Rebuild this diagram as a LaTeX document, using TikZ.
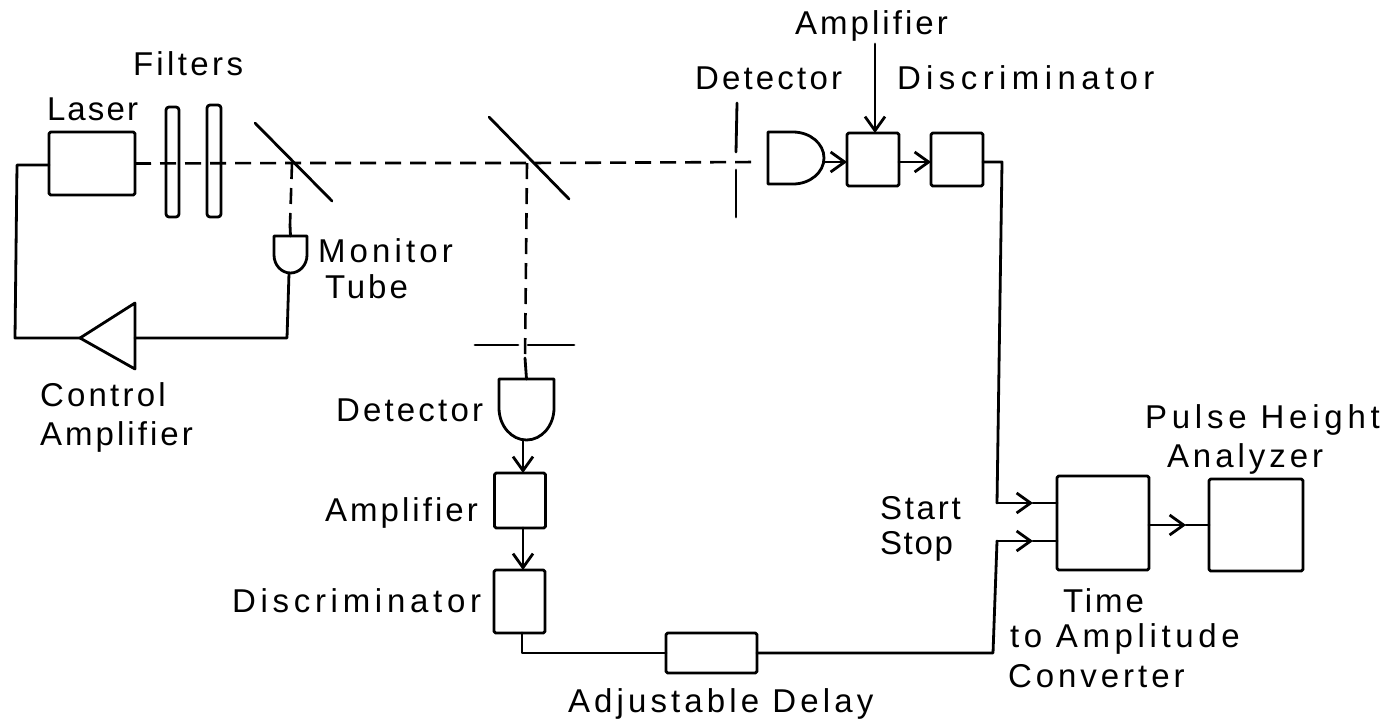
\documentclass[tikz,border=0pt]{standalone}
\usepackage{fontspec}
\setmainfont{Liberation Sans}
\usetikzlibrary{arrows.meta}
\tikzset{
  wire/.style={line width=1.4pt,line join=round,line cap=round},
  beam/.style={line width=1.3pt,dash pattern=on 8pt off 4.5pt},
  sized/.style 2 args={minimum width=#1*0.5pt,minimum height=#2*0.5pt,inner sep=0pt,outer sep=0pt},
  unit/.style 2 args={sized={#1}{#2},draw,wire,rounded corners=0.8pt},
  ghost/.style 2 args={sized={#1}{#2}},
  lab/.style={anchor=base west,inner sep=0pt,outer sep=0pt,font=\fontsize{16.5}{20}\selectfont\addfontfeature{LetterSpace=#1}},
  barb/.style={-{Straight Barb[length=7pt,width=10pt,line width=1.4pt]}}
}
\begin{document}
\begin{tikzpicture}[x=0.5pt,y=-0.5pt]
\useasboundingbox[fill=white] (0,0) rectangle (1384,725);
% boxes
\node[unit={86}{63}] (laser) at (92,163.5) {};
\node[unit={13}{110},rounded corners=1.5pt] (f1) at (172.5,162) {};
\node[unit={14}{112},rounded corners=1.5pt] (f2) at (214,161) {};
\node[unit={52}{53}] (amp1) at (873,159.5) {};
\node[unit={52}{53}] (disc1) at (957,159.5) {};
\node[unit={51}{55}] (amp2) at (520,500.5) {};
\node[unit={51}{63}] (disc2) at (519.5,601.5) {};
\node[unit={91}{40}] (delay) at (711.5,653) {};
\node[unit={92}{94}] (tac) at (1103,523) {};
\node[unit={94}{92}] (pha) at (1256,525) {};
% tubes (outlines drawn on invisible anchor nodes)
\node[ghost={33}{37}] (mon) at (290.5,254.5) {};
\draw[wire] (mon.north west) -- (mon.north east) -- ++(0,19) arc[start angle=0,end angle=180,x radius=16.5,y radius=18] -- cycle;
\node[ghost={55}{61}] (det2) at (526.5,409.5) {};
\draw[wire] (det2.north west) -- (det2.north east) -- ++(0,29) arc[start angle=0,end angle=180,x radius=27.5,y radius=32] -- cycle;
\node[ghost={56}{52}] (det1) at (796,158) {};
\draw[wire] (det1.north west) -- ++(25,0) arc[start angle=-90,end angle=90,x radius=31,y radius=26] -- (det1.south west) -- cycle;
% triangle amplifier
\node[ghost={55}{66}] (ctrl) at (107.5,336) {};
\draw[wire] (ctrl.north east) -- (ctrl.south east) -- (80,338) -- cycle;
% mirrors and slits
\coordinate (m1a) at (255,123); \coordinate (m1b) at (332,201);
\coordinate (m2a) at (489,117); \coordinate (m2b) at (569,199);
\draw[wire] (m1a) -- (m1b);
\draw[wire] (m2a) -- (m2b);
\coordinate (s1a) at (737,103); \coordinate (s1b) at (736,152);
\coordinate (s1c) at (736,170); \coordinate (s1d) at (736,217);
\draw[wire] (s1a) -- (s1b);
\draw[wire] (s1c) -- (s1d);
\coordinate (s2a) at (475,345); \coordinate (s2b) at (518,345);
\coordinate (s2c) at (528,345); \coordinate (s2d) at (574,345);
\draw[wire] (s2a) -- (s2b);
\draw[wire] (s2c) -- (s2d);
% beams
\coordinate (h1) at (292,163); \coordinate (h2) at (527,163); \coordinate (bend) at (757,162);
\draw[beam] (laser.east) -- (h1) -- (h2) -- (bend);
\coordinate (mdash) at (290,225); \coordinate (ddash) at (525,358);
\draw[beam] (h1) -- (mdash);
\draw[wire] (mdash) -- (mon.north);
\draw[beam] (h2) -- (ddash);
\draw[wire] (ddash) -- (det2.north);
% signal lines
\coordinate (ltop) at (17,165); \coordinate (lbot) at (15,338);
\coordinate (tip) at (80,338); \coordinate (rbot) at (287,338); \coordinate (montail) at (289,273);
\draw[wire] (laser.west |- ltop) -- (ltop) -- (lbot) -- (tip);
\draw[wire] (montail) -- (rbot) -- (ctrl.east |- rbot);
\coordinate (det1tip) at (824,162);
\draw[wire,barb] (det1tip) -- (amp1.west |- det1tip);
\draw[wire,barb] (amp1.east |- det1tip) -- (disc1.west |- det1tip);
\coordinate (ampfree) at (875,44);
\draw[wire,barb] (ampfree) -- (amp1.north -| ampfree);
\coordinate (c1) at (1002,162); \coordinate (c2) at (997,503); \coordinate (c3) at (1033,503);
\draw[wire] (disc1.east |- c1) -- (c1) -- (c2);
\draw[wire,barb] (c2) -- (c3);
\draw[wire] (c3) -- (tac.west |- c3);
\coordinate (d2tail) at (523,440);
\draw[wire,barb] (d2tail) -- (amp2.north -| d2tail);
\draw[wire,barb] (amp2.south -| d2tail) -- (disc2.north -| d2tail);
\coordinate (e1) at (522,653);
\draw[wire] (disc2.south -| e1) -- (e1) -- (delay.west);
\coordinate (g1) at (993,653); \coordinate (g2) at (997,541); \coordinate (g3) at (1033,541);
\draw[wire] (delay.east) -- (g1) -- (g2);
\draw[wire,barb] (g2) -- (g3);
\draw[wire] (g3) -- (tac.west |- g3);
\coordinate (o1) at (1186,525);
\draw[wire,barb] (tac.east |- o1) -- (o1);
\draw[wire] (o1) -- (pha.west |- o1);
% labels
\node[lab=10.2] (tFilters) at (133,75) {Filters};
\node[lab=6.5] (tLaser) at (47,120) {Laser};
\node[lab=12.5] (tMonitor) at (318,262) {Monitor};
\node[lab=9] (tTube) at (325,298) {Tube};
\node[lab=9.8] (tControl) at (40,406) {Control};
\node[lab=9.3] (tCAmp) at (40,445) {Amplifier};
\node[lab=9.7] (tDet2) at (336,421) {Detector};
\node[lab=9.3] (tAmp2) at (325,521) {Amplifier};
\node[lab=14.3] (tDisc2) at (232,612) {Discriminator};
\node[lab=12.5] (tDelay) at (568,712) {Adjustable Delay};
\node[lab=9.7] (tDet1) at (695,89) {Detector};
\node[lab=9.3] (tAmp1) at (795,34) {Amplifier};
\node[lab=16.4] (tDisc1) at (897,89) {Discriminator};
\node[lab=8.4] (tStart) at (880,519) {Start};
\node[lab=5] (tStop) at (880,554) {Stop};
\node[lab=9] (tTime) at (1063,612) {Time};
\node[lab=14] (tTo) at (1010,647) {to Amplitude};
\node[lab=12] (tConv) at (1008,687) {Converter};
\node[lab=14.5] (tPulse) at (1145,428) {Pulse Height};
\node[lab=12] (tAna) at (1167,467) {Analyzer};
\end{tikzpicture}
\end{document}
